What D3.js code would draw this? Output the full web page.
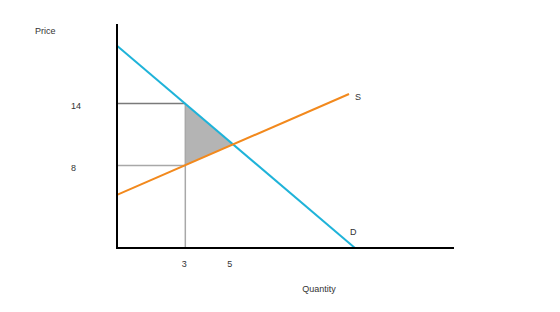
<!DOCTYPE html>
<html>
<head>
<meta charset="utf-8">
<script src="https://cdn.jsdelivr.net/npm/d3@7"></script>
<style>
  body { margin: 0; background: #fff; }
  text { font-family: "Liberation Sans", Arial, sans-serif; font-size: 9px; fill: #333; }
</style>
</head>
<body>
<div id="chart"></div>
<script>
// demand and supply lines (quantity, price)
var demandQ = [0, 10.45];
var demandP = [19.6, 0];
var supplyQ = [0, 10.19];
var supplyP = [5.14, 14.92];
// shaded triangle between the two guide prices
var areaQ = [3, 3, 5.1];
var areaP = [14, 8, 10.03];
var qTicks = [3, 5];
var pTicks = [14, 8];

function init() {
    var w = 560;
    var h = 312;

    var x = d3.scaleLinear().domain([0, 14.8]).range([117, 454]);
    var y = d3.scaleLinear().domain([0, 21.7]).range([248, 24]);

    var svg = d3.select("#chart")
                .append("svg")
                .attr("width", w)
                .attr("height", h);

    var line = d3.line()
                 .x(function(d) { return x(d[0]); })
                 .y(function(d) { return y(d[1]); });

    // shaded triangle
    svg.append("path")
       .attr("d", line(d3.zip(areaQ, areaP)) + "Z")
       .attr("fill", "#b4b4b4");

    // guide lines
    svg.append("line")
       .attr("x1", x(0)).attr("x2", x(qTicks[0]))
       .attr("y1", y(pTicks[0])).attr("y2", y(pTicks[0]))
       .attr("stroke", "#7a7a7a").attr("stroke-width", 1.5);
    svg.append("line")
       .attr("x1", x(0)).attr("x2", x(qTicks[0]))
       .attr("y1", y(pTicks[1])).attr("y2", y(pTicks[1]))
       .attr("stroke", "#a8a8a8").attr("stroke-width", 1.5);
    svg.append("line")
       .attr("x1", x(qTicks[0])).attr("x2", x(qTicks[0]))
       .attr("y1", y(pTicks[0])).attr("y2", y(0))
       .attr("stroke", "#a8a8a8").attr("stroke-width", 1.5);

    // demand and supply
    svg.append("path")
       .attr("d", line(d3.zip(demandQ, demandP)))
       .attr("fill", "none")
       .attr("stroke", "#1fb3d9")
       .attr("stroke-width", 2);
    svg.append("path")
       .attr("d", line(d3.zip(supplyQ, supplyP)))
       .attr("fill", "none")
       .attr("stroke", "#f2891d")
       .attr("stroke-width", 2);

    // axes
    svg.append("line")
       .attr("x1", x(0)).attr("x2", x(0))
       .attr("y1", y(21.7)).attr("y2", y(0))
       .attr("stroke", "#000").attr("stroke-width", 2);
    svg.append("line")
       .attr("x1", x(0) - 1).attr("x2", x(14.8))
       .attr("y1", y(0)).attr("y2", y(0))
       .attr("stroke", "#000").attr("stroke-width", 2);

    // tick labels
    svg.selectAll(".qt")
       .data(qTicks)
       .enter()
       .append("text")
       .attr("x", function(d) { return x(d) - 1; })
       .attr("y", 267)
       .attr("text-anchor", "middle")
       .text(function(d) { return d; });

    svg.selectAll(".pt")
       .data(pTicks)
       .enter()
       .append("text")
       .attr("x", 71)
       .attr("y", function(d) { return y(d) + 6; })
       .text(function(d) { return d; });

    // titles and line labels
    svg.append("text").attr("x", 35).attr("y", 34).text("Price");
    svg.append("text").attr("x", 319).attr("y", 292).attr("text-anchor", "middle").text("Quantity");
    svg.append("text").attr("x", 355).attr("y", 100).text("S");
    svg.append("text").attr("x", 350).attr("y", 235).text("D");
}

window.onload = init;
</script>
</body>
</html>
